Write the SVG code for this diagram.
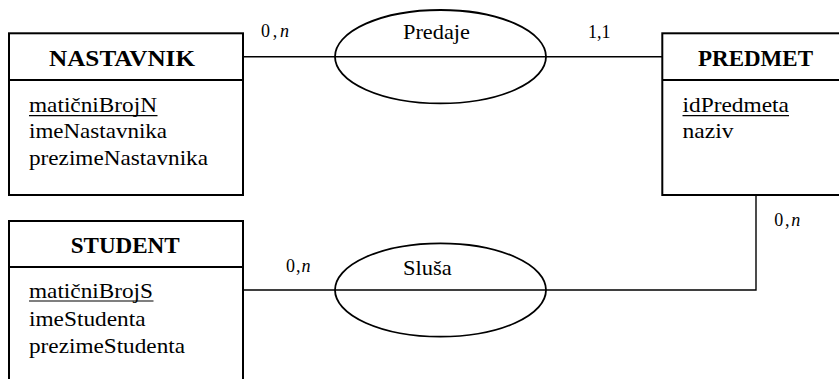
<svg xmlns="http://www.w3.org/2000/svg" width="839" height="379" viewBox="0 0 839 379">
<style>
  .box { fill: #fff; stroke: #000; stroke-width: 2; }
  .div { stroke: #000; stroke-width: 2; }
  .rel { fill: none; stroke: #000; stroke-width: 1.8; }
  .conn { fill: none; stroke: #000; stroke-width: 1.4; }
  .title { font-size: 22.5px; font-weight: bold; }
  .attr { font-size: 22px; }
  .lbl { font-size: 18px; }
  .ul { stroke: #000; stroke-width: 1.2; }
</style>
<rect width="839" height="379" fill="#fff"/>
<g id="connectors">
  <line class="conn" x1="243" y1="56.7" x2="662" y2="56.7"/>
  <polyline class="conn" points="243,290 756,290 756,195"/>
</g>
<g font-family="Liberation Serif, Times New Roman, serif" fill="#000">
<g id="nastavnik">
  <rect class="box" x="9" y="33.3" width="234" height="161.7"/>
  <line class="div" x1="9" y1="80" x2="243" y2="80"/>
  <text class="title" x="49" y="65.5" textLength="146" lengthAdjust="spacingAndGlyphs">NASTAVNIK</text>
  <text class="attr" x="29" y="112" textLength="128" lengthAdjust="spacingAndGlyphs">matičniBrojN</text>
  <line class="ul" x1="29" y1="115.7" x2="157.5" y2="115.7"/>
  <text class="attr" x="29" y="138" textLength="138" lengthAdjust="spacingAndGlyphs">imeNastavnika</text>
  <text class="attr" x="29" y="165" textLength="179" lengthAdjust="spacingAndGlyphs">prezimeNastavnika</text>
</g>
<g id="predmet">
  <rect class="box" x="662.3" y="33.3" width="190" height="161.7"/>
  <line class="div" x1="662.3" y1="80" x2="852" y2="80"/>
  <text class="title" x="698" y="65.5" textLength="115" lengthAdjust="spacingAndGlyphs">PREDMET</text>
  <text class="attr" x="682.5" y="111.7" textLength="106.5" lengthAdjust="spacingAndGlyphs">idPredmeta</text>
  <line class="ul" x1="682.5" y1="115.7" x2="789" y2="115.7"/>
  <text class="attr" x="682.5" y="138" textLength="51" lengthAdjust="spacingAndGlyphs">naziv</text>
</g>
<g id="student">
  <rect class="box" x="9" y="221" width="234" height="170"/>
  <line class="div" x1="9" y1="267" x2="243" y2="267"/>
  <text class="title" x="70.7" y="253.3" textLength="109" lengthAdjust="spacingAndGlyphs">STUDENT</text>
  <text class="attr" x="29" y="297.7" textLength="124" lengthAdjust="spacingAndGlyphs">matičniBrojS</text>
  <line class="ul" x1="29" y1="301" x2="153.5" y2="301"/>
  <text class="attr" x="29" y="326" textLength="116.5" lengthAdjust="spacingAndGlyphs">imeStudenta</text>
  <text class="attr" x="29" y="353.3" textLength="156" lengthAdjust="spacingAndGlyphs">prezimeStudenta</text>
</g>
<g id="predaje">
  <ellipse class="rel" cx="440.5" cy="56.7" rx="105.5" ry="46.7"/>
  <text class="attr" x="403" y="39" textLength="67" lengthAdjust="spacingAndGlyphs">Predaje</text>
</g>
<g id="slusa">
  <ellipse class="rel" cx="440.5" cy="290" rx="105.5" ry="46.7"/>
  <text class="attr" x="403" y="275" textLength="48.7" lengthAdjust="spacingAndGlyphs">Sluša</text>
</g>
<g id="cardinalities">
  <text class="lbl" x="261" y="36.5" textLength="28" lengthAdjust="spacing">0,<tspan font-style="italic">n</tspan></text>
  <text class="lbl" x="588" y="37.5" textLength="22.5" lengthAdjust="spacing">1,1</text>
  <text class="lbl" x="774.3" y="225.7" textLength="26" lengthAdjust="spacing">0,<tspan font-style="italic">n</tspan></text>
  <text class="lbl" x="286" y="271.7" textLength="24.5" lengthAdjust="spacing">0,<tspan font-style="italic">n</tspan></text>
</g>
</g>
</svg>
